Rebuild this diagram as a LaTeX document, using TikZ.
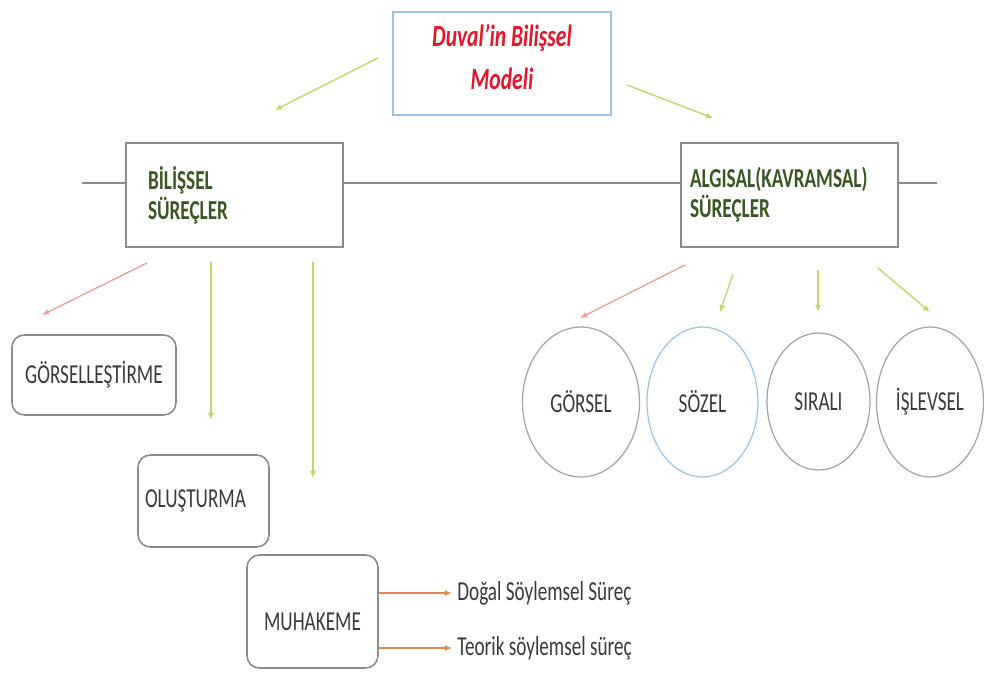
\documentclass[tikz,border=0pt]{standalone}
\usepackage{fontspec}
\setmainfont{Carlito}[FakeStretch=0.7]
\usepackage{tikz}
\usetikzlibrary{arrows.meta,shapes.geometric}
\definecolor{titlered}{HTML}{E3172B}
\definecolor{titleblue}{HTML}{9DC3E6}
\definecolor{leafgreen}{HTML}{385723}
\definecolor{boxgray}{HTML}{8C8C8C}
\definecolor{inkgray}{HTML}{3A3A3A}
\definecolor{limeline}{HTML}{C6D46E}
\definecolor{pinkline}{HTML}{E6A3A0}
\definecolor{orangeline}{HTML}{E0884F}

\begin{document}
\begin{tikzpicture}[x=0.02cm,y=-0.02cm,>={Latex[length=4pt,width=3.5pt]},
    every node/.style={font=\fontsize{15.6}{17}\selectfont,text=inkgray},
    procbox/.style={draw=boxgray,line width=0.9pt,minimum height=2.08cm,
      align=left,text=leafgreen,font=\fontsize{15.6}{17}\selectfont\bfseries},
    leafbox/.style={rounded corners=7pt,draw=boxgray,line width=0.9pt},
    bubble/.style={ellipse,draw=boxgray!80,line width=0.7pt,inner sep=0pt},
    limearrow/.style={->,limeline,line width=0.8pt},
    pinkarrow/.style={->,pinkline,line width=0.8pt},
    orangearrow/.style={->,orangeline,line width=0.8pt}]
  \useasboundingbox (0,0) rectangle (984,673);

  % baslik
  \node[draw=titleblue,line width=0.8pt,minimum width=4.36cm,minimum height=2.06cm,
    align=center,text=titlered,font=\fontsize{17.5}{24.4}\selectfont\bfseries\itshape]
    (duval) at (502,63.5) {Duval'in Bilişsel\\Modeli\rule[-7pt]{0pt}{0pt}};

  % iki ana kutu
  \node[procbox,inner xsep=0.44cm,text width=3.46cm] (bilissel) at (234.5,195) {BİLİŞSEL\\SÜREÇLER};
  \node[procbox,inner xsep=0.18cm,text width=3.98cm] (algisal) at (789.5,195) {ALGISAL(KAVRAMSAL)\\SÜREÇLER};
  \coordinate (lineL) at (82,183);
  \coordinate (lineR) at (937,183);
  \draw[boxgray,line width=0.9pt] (lineL) -- (lineL -| bilissel.west)
    (lineL -| bilissel.east) -- (lineL -| algisal.west)
    (lineL -| algisal.east) -- (lineR);

  % bilissel surecler
  \node[leafbox,minimum width=3.28cm,minimum height=1.6cm] (gorsellestirme) at (94,375) {GÖRSELLEŞTİRME};
  \node[leafbox,inner xsep=0.14cm,text width=2.34cm,align=left,minimum height=1.84cm] (olusturma) at (203.5,501) {OLUŞTURMA};
  \node[leafbox,minimum width=2.62cm,minimum height=2.26cm,text height=0.75cm] (muhakeme) at (312.5,611.5) {MUHAKEME};
  \node[anchor=west,inner xsep=0.1cm,inner ysep=0pt] (dogal) at (452,593) {Doğal Söylemsel Süreç};
  \node[anchor=west,inner xsep=0.1cm,inner ysep=0pt] (teorik) at (452,648) {Teorik söylemsel süreç};

  % algisal surecler
  \node[bubble,minimum width=2.34cm,minimum height=3cm] (gorsel) at (581,402) {GÖRSEL};
  \node[bubble,draw=titleblue,minimum width=2.22cm,minimum height=3cm] (sozel) at (702.5,402) {SÖZEL};
  \node[bubble,minimum width=2.06cm,minimum height=2.74cm] (sirali) at (818.5,401.5) {SIRALI};
  \node[bubble,minimum width=2.14cm,minimum height=3cm] (islevsel) at (930,402) {İŞLEVSEL};

  % ok uclari
  \coordinate (duvalL) at (378,58);    \coordinate (toBilissel) at (275,110);
  \coordinate (duvalR) at (627,85);    \coordinate (toAlgisal) at (713,118);
  \coordinate (bilA) at (147,263);     \coordinate (toGorsellestirme) at (42,315);
  \coordinate (bilB) at (211,262);     \coordinate (toOlusturma) at (211,420);
  \coordinate (bilC) at (313,262);     \coordinate (toMuhakeme) at (313,478);
  \coordinate (algA) at (685,265);     \coordinate (toGorsel) at (580,318);
  \coordinate (algB) at (733,274);     \coordinate (toSozel) at (720,312);
  \coordinate (algC) at (818,270);     \coordinate (toSirali) at (818,312);
  \coordinate (algD) at (878,268);     \coordinate (toIslevsel) at (930,312);

  \draw[limearrow] (duvalL) -- (toBilissel);
  \draw[limearrow] (duvalR) -- (toAlgisal);
  \draw[pinkarrow] (bilA) -- (toGorsellestirme);
  \draw[limearrow] (bilB) -- (toOlusturma);
  \draw[limearrow] (bilC) -- (toMuhakeme);
  \draw[pinkarrow] (algA) -- (toGorsel);
  \draw[limearrow] (algB) -- (toSozel);
  \draw[limearrow] (algC) -- (toSirali);
  \draw[limearrow] (algD) -- (toIslevsel);
  \draw[orangearrow] (muhakeme.east |- dogal.west) -- (dogal.west);
  \draw[orangearrow] (muhakeme.east |- teorik.west) -- (teorik.west);
\end{tikzpicture}
\end{document}
